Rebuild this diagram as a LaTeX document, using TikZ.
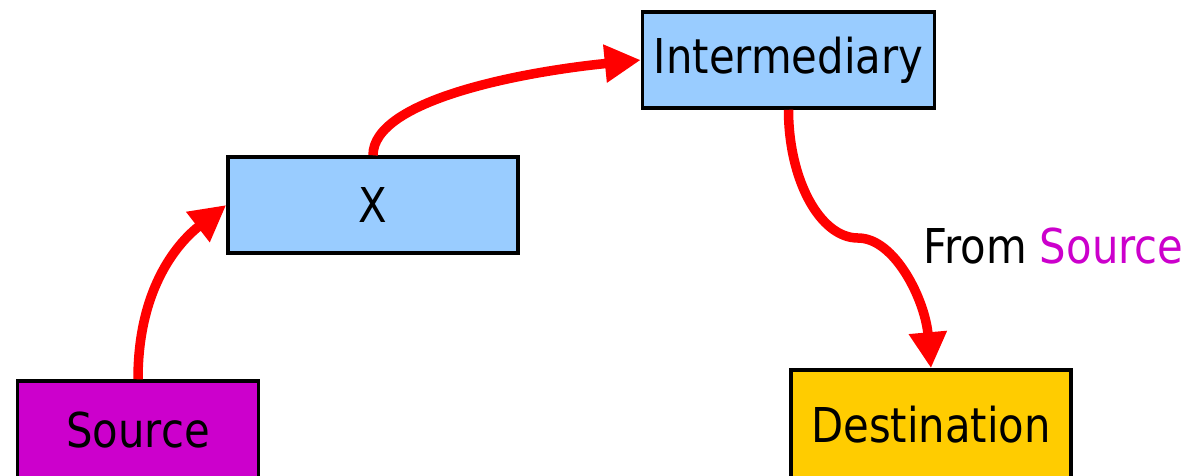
\documentclass[tikz,border=0pt]{standalone}
\usepackage{fontspec}
\setmainfont{DejaVu Sans}[FakeStretch=0.87]
\usetikzlibrary{arrows.meta}
\definecolor{srcmag}{HTML}{CC00CC}
\definecolor{boxblue}{HTML}{99CCFF}
\definecolor{dstyellow}{HTML}{FFCC00}
\definecolor{flowred}{HTML}{FF0000}
\tikzset{
  hop/.style={draw=black, line width=3.5pt, minimum width=#1, minimum height=96pt,
    inner sep=0pt, font=\fontsize{48}{58}\selectfont, text=black},
  flow/.style={draw=flowred, line width=9.5pt,
    -{Triangle[length=36pt,width=36pt]}},
}
\begin{document}
\begin{tikzpicture}[x=1pt, y=-1pt]
  \useasboundingbox (0,0) rectangle (1196,475);
  % hosts along the path
  \node[hop=241pt, fill=srcmag, minimum height=98pt] (src) at (138,430) {Source};
  \node[hop=290pt, fill=boxblue] (x) at (373,205) {X};
  \node[hop=292pt, fill=boxblue] (mid) at (788.5,60) {Intermediary};
  \node[hop=280pt, fill=dstyellow, minimum height=110pt] (dst) at (931,425) {Destination};
  % forwarding hops
  \draw[flow] (src.north) .. controls +(0,-95) and +(-45,35) .. (x.west);
  \draw[flow] (x.north) .. controls +(0,-55) and +(-120,12) .. (mid.west);
  \coordinate (bend) at (858,238);
  \draw[flow] (mid.south) .. controls +(0,70) and +(-38,0) .. (bend)
    .. controls +(37,0) and +(-6,-68) .. (dst.north);
  % label of the last hop
  \node[anchor=base west, inner sep=0pt, font=\fontsize{48}{58}\selectfont] (lbl) at (923,263)
    {From \textcolor{srcmag}{Source}};
\end{tikzpicture}
\end{document}
